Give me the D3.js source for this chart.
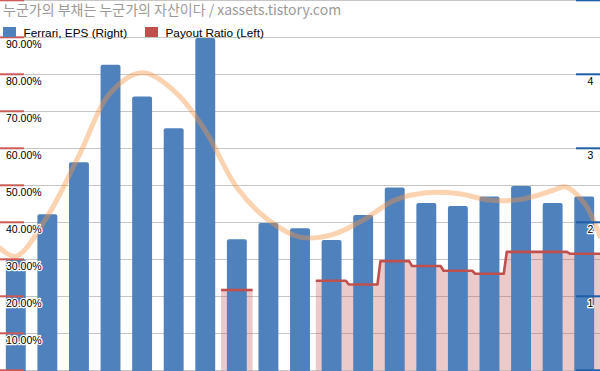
<!DOCTYPE html>
<html>
<head>
<meta charset="utf-8">
<script src="https://cdn.jsdelivr.net/npm/d3@7"></script>
<style>
  html, body { margin: 0; padding: 0; background: #fff; }
  svg { display: block; }
  .lbl { font-family: "Liberation Sans", Arial, sans-serif; }
</style>
</head>
<body>
<svg id="chart" width="600" height="371"></svg>
<script>
// ---- data ----
const categories = ["2015","2016","2017","2018","2019","2020","2021",
  "2022Q1","2022Q2","2022Q3","2022Q4","2023Q1","2023Q2","2023Q3","2023Q4",
  "2024Q1","2024Q2","2024Q3","2024Q4"];
const eps = [1.50, 2.11, 2.81, 4.13, 3.70, 3.27, 4.49,
  1.77, 1.99, 1.92, 1.76, 2.10, 2.47, 2.26, 2.22, 2.35, 2.49, 2.26, 2.35];
const payout = [null, null, null, null, null, null, null,
  0.217, null, null, 0.242, 0.232, 0.295, 0.282, 0.269, 0.261, 0.320, 0.320, 0.315];
// smooth trend line (EPS units), positions in category index units
const trendPos    = [-0.5, 0, 1, 2, 3, 4, 5, 6, 7, 8, 9, 10, 11, 12, 13, 14, 15, 16, 17, 17.4, 18, 18.5];
const trendValues = [1.65, 1.54, 2.08, 2.90, 3.75, 4.02, 3.78, 3.24, 2.47, 2.03, 1.80, 1.83, 2.03, 2.30, 2.40, 2.39, 2.30, 2.31, 2.43, 2.48, 2.26, 1.81];
const leftTicks = [0.1, 0.2, 0.3, 0.4, 0.5, 0.6, 0.7, 0.8, 0.9];
const rightTicks = [1, 2, 3, 4];
const title = "누군가의 부채는 누군가의 자산이다 / xassets.tistory.com";
const legendItems = ["Ferrari, EPS (Right)", "Payout Ratio (Left)"];

// ---- layout ----
const W = 600, H = 371;
const plotTop = 0.3, plotBottom = 370.3;
const svg = d3.select("#chart");

const x = d3.scaleBand().domain(d3.range(categories.length)).range([0, W])
  .paddingInner(0.37).paddingOuter(0.185);
const xi = d3.scaleLinear().domain([-0.5, categories.length - 0.5]).range([0, W]);
const yL = d3.scaleLinear().domain([0, 1]).range([plotBottom, plotTop]);
const yR = d3.scaleLinear().domain([0, 5]).range([plotBottom, plotTop]);

const blue = "#4f81bd", red = "#c0504d";

// gridlines
svg.append("g").selectAll("line").data(d3.range(0, 1.0001, 0.1)).join("line")
  .attr("x1", 0).attr("x2", W)
  .attr("y1", d => Math.round(yL(d)) + 0.5).attr("y2", d => Math.round(yL(d)) + 0.5)
  .attr("stroke", "#c6c6c6").attr("stroke-width", 1);

// payout step area + line
const cx = i => x(i) + x.bandwidth() / 2;
const half = x.step() / 2;
const runs = [];
let cur = null;
payout.forEach((v, i) => {
  if (v == null) { cur = null; return; }
  if (!cur) { cur = []; runs.push(cur); }
  cur.push({ i, v });
});
const stepPts = run => {
  const pts = [];
  run.forEach((d, k) => {
    const s = cx(d.i) - half, e = cx(d.i) + half;
    pts.push([k === 0 ? s : s + 1.5, d.v]);
    pts.push([k === run.length - 1 ? e : e - 1.5, d.v]);
  });
  return pts;
};
const area = d3.area().x(p => p[0]).y0(yL(0)).y1(p => yL(p[1]));
const line = d3.line().x(p => p[0]).y(p => yL(p[1]));
svg.append("g").selectAll("path").data(runs).join("path")
  .attr("d", r => area(stepPts(r)))
  .attr("fill", red).attr("fill-opacity", 0.3);

// bars
svg.append("g").selectAll("rect").data(eps).join("rect")
  .attr("x", (d, i) => x(i)).attr("width", x.bandwidth())
  .attr("y", d => yR(d)).attr("height", d => yR(0) - yR(d) + 3)
  .attr("rx", 2).attr("fill", blue);

// payout line
svg.append("g").selectAll("path").data(runs).join("path")
  .attr("d", r => line(stepPts(r)))
  .attr("fill", "none").attr("stroke", red).attr("stroke-width", 2.6)
  .attr("stroke-linejoin", "round");

// trend curve
const trend = d3.line().curve(d3.curveCatmullRom.alpha(0.5))
  .x((d, k) => xi(trendPos[k])).y(d => yR(d));
svg.append("path").attr("d", trend(trendValues))
  .attr("fill", "none").attr("stroke", "#f79646").attr("stroke-opacity", 0.42)
  .attr("stroke-width", 5).attr("stroke-linecap", "round");

// left axis (ticks + labels inside)
const lAx = svg.append("g");
lAx.selectAll("line").data(d3.range(0, 1.0001, 0.1)).join("line")
  .attr("x1", 0).attr("x2", 24)
  .attr("y1", d => yL(d)).attr("y2", d => yL(d))
  .attr("stroke", "#cc5a57").attr("stroke-width", 2);
lAx.selectAll("text").data(leftTicks).join("text")
  .attr("class", "lbl")
  .attr("x", 6).attr("y", d => yL(d) + 11)
  .attr("font-size", 10.5).attr("fill", "#000")
  .attr("stroke", "#fff").attr("stroke-width", 2.5).attr("stroke-linejoin", "round")
  .attr("paint-order", "stroke")
  .text(d => d3.format(".2%")(d));

// right axis
const rAx = svg.append("g");
rAx.selectAll("line").data(d3.range(0, 6)).join("line")
  .attr("x1", 576).attr("x2", W)
  .attr("y1", d => yR(d)).attr("y2", d => yR(d))
  .attr("stroke", "#1f5ea8").attr("stroke-width", 2);
rAx.selectAll("text").data(rightTicks).join("text")
  .attr("class", "lbl")
  .attr("x", 590.5).attr("y", d => yR(d) + 11).attr("text-anchor", "middle")
  .attr("font-size", 10.5).attr("fill", "#000")
  .attr("stroke", "#fff").attr("stroke-width", 2.5).attr("stroke-linejoin", "round")
  .attr("paint-order", "stroke")
  .text(d => d);

// title
svg.append("text").attr("x", 3).attr("y", 15)
  .attr("font-family", "'Noto Sans CJK KR', sans-serif")
  .attr("font-size", 14).attr("fill", "#9a9a9a")
  .text(title);

// legend
const leg = svg.append("g");
const legX = [3, 145];
const legC = [blue, red];
legendItems.forEach((t, k) => {
  leg.append("rect").attr("x", legX[k]).attr("y", 27).attr("width", 13).attr("height", 10)
    .attr("fill", legC[k]);
  leg.append("text").attr("class", "lbl").attr("x", legX[k] + 20.5).attr("y", 36.5)
    .attr("font-size", 11.8).attr("fill", "#000").text(t);
});
</script>
</body>
</html>
